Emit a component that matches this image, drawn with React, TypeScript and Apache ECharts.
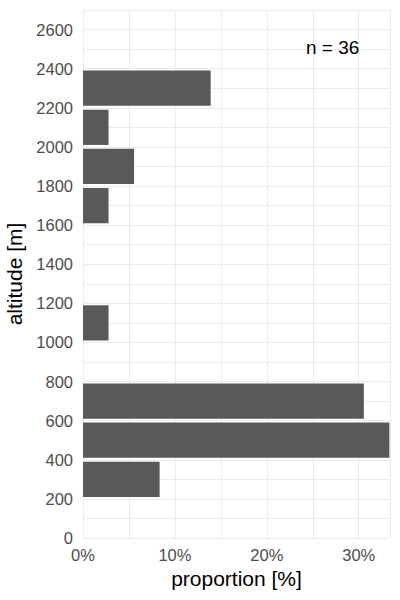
import React, { useEffect, useRef } from "react";
import * as echarts from "echarts";

// Histogram bins (altitude, m) and counts per bin
const binStart = [200, 400, 600, 1000, 1600, 1800, 2000, 2200];
const binWidth = 200;
const counts = [3, 12, 11, 1, 1, 2, 1, 5];
const total = 36;
const proportions = counts.map((c) => (c / total) * 100);

const yMin = 0;
const yMax = 2700;
const yStep = 100;
const xMin = 0;
const xMax = 33.4;
const xStep = 5;

const FONT = "'Liberation Sans', Arial, Helvetica, sans-serif";

export default function App() {
  const ref = useRef<HTMLDivElement>(null);

  useEffect(() => {
    if (!ref.current) return;
    const chart = echarts.init(ref.current, undefined, { renderer: "svg" });
    const data = binStart.map((b, i) => [b, b + binWidth, proportions[i]]);
    chart.setOption({
      animation: false,
      backgroundColor: "#ffffff",
      textStyle: { fontFamily: FONT },
      grid: {
        left: 83,
        right: 10,
        top: 10,
        bottom: 62,
        containLabel: false,
        outerBoundsMode: "none",
      },
      xAxis: {
        type: "value",
        min: xMin,
        max: xMax,
        interval: xStep,
        name: "proportion [%]",
        nameLocation: "middle",
        nameGap: 30,
        nameTextStyle: { color: "#000000", fontSize: 21, fontFamily: FONT },
        axisLine: { show: false },
        axisTick: { show: false },
        axisLabel: {
          color: "#4d4d4d",
          fontSize: 16.5,
          fontFamily: FONT,
          margin: 8,
          formatter: (v: number) =>
            Math.abs(v % 10) < 1e-9 ? `${v}%` : "",
        },
        splitLine: { show: true, lineStyle: { color: "#ebebeb", width: 1 } },
      },
      yAxis: {
        type: "value",
        min: yMin,
        max: yMax,
        interval: yStep,
        name: "altitude [m]",
        nameLocation: "middle",
        nameGap: 48,
        nameRotate: 90,
        nameTextStyle: { color: "#000000", fontSize: 21, fontFamily: FONT },
        axisLine: { show: false },
        axisTick: { show: false },
        axisLabel: {
          color: "#4d4d4d",
          fontSize: 16.5,
          fontFamily: FONT,
          margin: 10,
          formatter: (v: number) => (v % 200 === 0 ? `${v}` : ""),
        },
        splitLine: { show: true, lineStyle: { color: "#ebebeb", width: 1 } },
      },
      graphic: [
        {
          type: "text",
          left: 306,
          top: 38,
          z: 10,
          style: {
            text: `n = ${total}`,
            fill: "#000000",
            font: `19px ${FONT}`,
          },
        },
      ],
      series: [
        {
          type: "custom",
          renderItem: (params: any, api: any) => {
            const y0 = api.value(0);
            const y1 = api.value(1);
            const p = api.value(2);
            const pad = (y1 - y0) * 0.05;
            const a = api.coord([0, y1 - pad]);
            const b = api.coord([p, y0 + pad]);
            return {
              type: "rect",
              shape: { x: a[0], y: a[1], width: b[0] - a[0], height: b[1] - a[1] },
              style: { fill: "#595959" },
            };
          },
          encode: { x: 2, y: [0, 1] },
          data,
        },
      ],
    });
    return () => chart.dispose();
  }, []);

  return (
    <div
      ref={ref}
      style={{ position: "fixed", left: 0, top: 0, width: 400, height: 600 }}
    />
  );
}
